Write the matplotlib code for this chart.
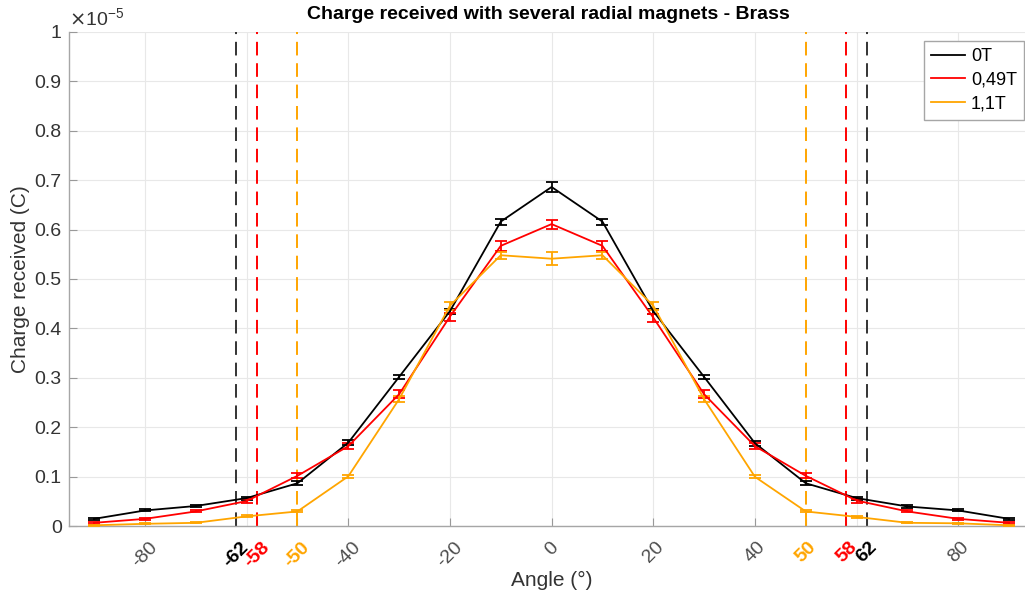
import matplotlib.pyplot as plt
from matplotlib.lines import Line2D
import numpy as np

plt.rcParams['font.family'] = ['Liberation Sans', 'DejaVu Sans']

# angles (deg) and collected charge, in units of 1e-5 C
angles = [-90, -80, -70, -60, -50, -40, -30, -20, -10, 0,
          10, 20, 30, 40, 50, 60, 70, 80, 90]

charge_0T = [0.015, 0.032, 0.041, 0.057, 0.087, 0.169, 0.302, 0.435, 0.616, 0.686,
             0.616, 0.435, 0.302, 0.168, 0.087, 0.057, 0.040, 0.032, 0.015]
err_0T = [0.002, 0.002, 0.003, 0.003, 0.004, 0.005, 0.004, 0.005, 0.006, 0.011,
          0.006, 0.005, 0.004, 0.005, 0.004, 0.003, 0.003, 0.002, 0.002]

charge_049T = [0.007, 0.015, 0.030, 0.051, 0.102, 0.162, 0.267, 0.424, 0.567, 0.611,
               0.567, 0.422, 0.267, 0.162, 0.102, 0.052, 0.030, 0.015, 0.007]
err_049T = [0.002, 0.002, 0.002, 0.004, 0.005, 0.006, 0.008, 0.008, 0.010, 0.009,
            0.010, 0.008, 0.008, 0.006, 0.005, 0.004, 0.002, 0.002, 0.002]

charge_11T = [0.002, 0.005, 0.007, 0.020, 0.030, 0.101, 0.257, 0.446, 0.548, 0.541,
              0.548, 0.446, 0.257, 0.100, 0.030, 0.019, 0.007, 0.006, 0.002]
err_11T = [0.001, 0.001, 0.001, 0.002, 0.002, 0.003, 0.006, 0.008, 0.007, 0.013,
           0.007, 0.008, 0.006, 0.003, 0.002, 0.002, 0.001, 0.001, 0.001]

labels = ['0T', '0,49T', '1,1T']
ORANGE = '#ffa500'
colors = ['black', 'red', ORANGE]

# cut-off angles for each field
cutoffs = [62, 58, 50]

fig = plt.figure(figsize=(10.25, 5.99), dpi=100)
ax = fig.add_axes([0.067, 0.1214, 0.9423, 0.8257])

ax.set_xlim(-95, 95)
ax.set_ylim(0, 1)

# light grid
for g in range(-80, 81, 20):
    ax.axvline(g, color='#e8e8e8', lw=0.8, zorder=0)
ax.set_yticks(np.arange(0, 1.01, 0.1))
ax.yaxis.grid(True, color='#e8e8e8', lw=0.8)
ax.set_axisbelow(True)

series = [(charge_0T, err_0T), (charge_049T, err_049T), (charge_11T, err_11T)]
for (vals, errs), col in zip(series, colors):
    ax.errorbar(angles, vals, yerr=errs, color=col, lw=1.3, capsize=4,
                elinewidth=1.3, capthick=1.3, zorder=3)

for c, col in zip(cutoffs, ['#333333', 'red', ORANGE]):
    for s in (-1, 1):
        ax.axvline(s * c, color=col, lw=1.4, ls=(0, (7, 4)), zorder=2)

# x ticks: round values plus the cut-off angles
tick_pos = [-80, -62, -58, -50, -40, -20, 0, 20, 40, 50, 58, 62, 80]
ax.set_xticks(tick_pos)
ax.set_xticklabels([str(t) for t in tick_pos], rotation=45, ha='center',
                   va='top', fontsize=14)
tick_colors = {62: 'black', 58: 'red', 50: ORANGE}
for t, lbl in zip(tick_pos, ax.get_xticklabels()):
    if abs(t) in tick_colors:
        lbl.set_color(tick_colors[abs(t)])
        lbl.set_fontweight('bold')
    else:
        lbl.set_color('#4d4d4d')

ax.set_yticklabels(['0'] + ['%.1f' % v for v in np.arange(0.1, 0.95, 0.1)] + ['1'],
                   fontsize=14, color='#333333')

ax.tick_params(direction='in', length=6, color='#999999', pad=5)
ax.tick_params(axis='x', pad=9)
for side in ('top', 'right'):
    ax.spines[side].set_visible(False)
for side in ('left', 'bottom'):
    ax.spines[side].set_color('#a6a6a6')
    ax.spines[side].set_linewidth(1.0)

ax.text(0.0, 1.005, r'$\times\mathregular{10^{-5}}$', transform=ax.transAxes,
        fontsize=14, color='#333333', ha='left', va='bottom')

ax.set_xlabel('Angle (°)', fontsize=15, color='#333333', labelpad=0)
ax.set_ylabel('Charge received (C)', fontsize=15, color='#333333', labelpad=3)
fig.text(0.535, 0.975, 'Charge received with several radial magnets - Brass',
         ha='center', va='center', fontsize=14, fontweight='bold')

handles = [Line2D([], [], color=c, lw=1.3) for c in colors]
ax.legend(handles, labels, loc='upper right', bbox_to_anchor=(0.999, 0.932),
          bbox_transform=fig.transFigure, fancybox=False, framealpha=1,
          edgecolor='#a6a6a6', fontsize=13, handlelength=1.9,
          borderpad=0.4, labelspacing=0.38, handletextpad=0.3,
          borderaxespad=0)

fig.savefig('out.png', dpi=100)
